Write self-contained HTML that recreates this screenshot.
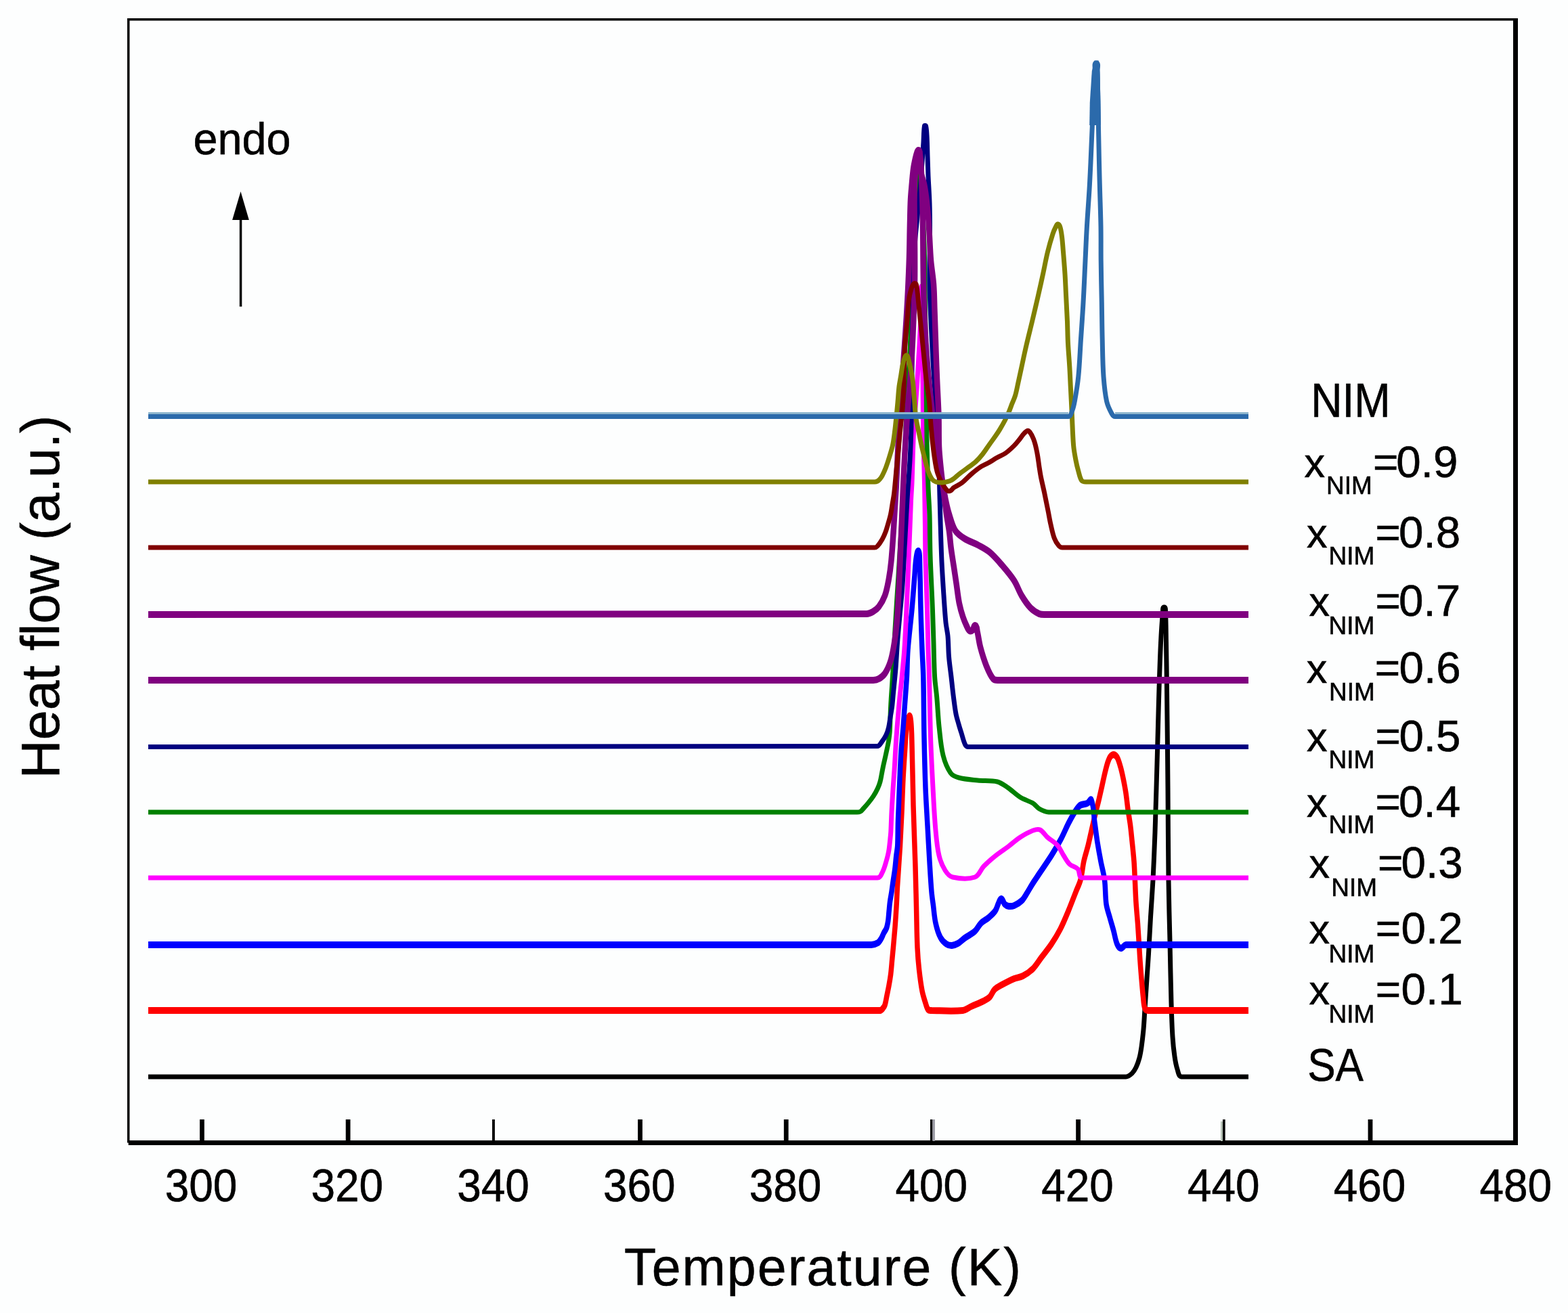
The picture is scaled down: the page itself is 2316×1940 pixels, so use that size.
<!DOCTYPE html>
<html><head><meta charset="utf-8"><title>DSC heat flow</title>
<style>html,body{margin:0;padding:0;background:#fdfefe;overflow:hidden;width:2316px;height:1940px;}svg{display:block;} text{stroke:#000;stroke-width:0.6px;paint-order:fill;}</style>
</head><body>
<svg width="2316" height="1940" viewBox="0 0 2316 1940">
<rect x="0" y="0" width="2316" height="1940" fill="#fdfefe"/>
<path d="M219.0,1591.0 L1663.0,1591.0 C1666.4,1591.0 1669.5,1588.3 1672.0,1586.0 C1674.6,1583.5 1676.4,1580.3 1678.0,1577.0 C1680.1,1572.5 1681.7,1567.8 1683.0,1563.0 C1684.4,1557.8 1685.2,1552.4 1686.0,1547.0 C1687.2,1538.4 1688.2,1529.7 1689.0,1521.0 C1689.9,1511.0 1690.3,1501.0 1691.0,1491.0 C1692.0,1476.0 1693.0,1461.0 1694.0,1446.0 C1694.8,1433.7 1695.8,1421.3 1696.5,1409.0 C1697.6,1391.0 1698.4,1373.0 1699.5,1355.0 C1700.6,1336.7 1702.0,1318.3 1703.0,1300.0 C1704.2,1276.7 1705.1,1253.3 1706.0,1230.0 C1706.8,1208.0 1707.4,1186.0 1708.0,1164.0 C1708.9,1133.7 1709.7,1103.3 1710.5,1073.0 C1711.0,1054.7 1711.4,1036.3 1712.0,1018.0 C1712.7,995.3 1713.4,972.7 1714.5,950.0 C1715.2,935.0 1716.1,920.0 1717.5,905.0 C1717.8,902.3 1716.8,897.0 1719.5,897.0 C1722.2,897.0 1721.3,902.3 1721.5,905.0 C1722.3,920.0 1722.2,935.0 1722.5,950.0 C1722.9,972.7 1723.2,995.3 1723.5,1018.0 C1724.1,1066.7 1724.6,1115.3 1725.0,1164.0 C1725.4,1209.3 1725.4,1254.7 1726.0,1300.0 C1726.4,1330.3 1727.3,1360.7 1728.0,1391.0 C1728.7,1421.3 1729.1,1451.7 1730.0,1482.0 C1730.5,1498.7 1730.9,1515.4 1732.0,1532.0 C1732.6,1541.7 1733.6,1551.4 1735.0,1561.0 C1735.9,1567.4 1737.0,1573.9 1739.0,1580.0 C1740.3,1584.0 1740.8,1590.6 1745.0,1591.0 L1844.0,1591.0" fill="none" stroke="#000000" stroke-width="7" stroke-linejoin="round" stroke-linecap="butt"/>
<path transform="scale(1,1.3333)" d="M219.0,1119.8 L1300.0,1119.8 C1301.5,1119.7 1302.8,1118.5 1304.0,1117.5 C1305.2,1116.5 1306.4,1115.2 1307.0,1113.8 C1308.4,1110.4 1309.0,1106.8 1310.0,1103.2 C1311.0,1099.5 1312.1,1095.8 1313.0,1092.0 C1314.0,1088.0 1314.9,1084.0 1315.6,1080.0 C1316.4,1075.0 1316.9,1070.0 1317.5,1065.0 C1318.1,1060.0 1318.8,1055.0 1319.4,1050.0 C1320.3,1042.5 1321.2,1035.0 1322.0,1027.5 C1322.8,1020.0 1323.4,1012.5 1324.0,1005.0 C1324.6,997.5 1324.9,990.0 1325.5,982.5 C1326.1,975.0 1326.8,967.5 1327.5,960.0 C1328.2,952.5 1328.9,945.0 1329.5,937.5 C1330.4,925.0 1331.2,912.5 1332.0,900.0 C1332.7,887.5 1333.2,875.0 1334.0,862.5 C1334.7,852.5 1335.6,842.5 1336.5,832.5 C1337.3,823.7 1337.6,814.9 1339.0,806.2 C1339.7,801.9 1339.9,796.7 1343.0,793.5 C1344.5,791.9 1345.2,797.4 1345.5,799.5 C1346.6,807.9 1346.7,816.5 1347.0,825.0 C1347.8,847.5 1348.2,870.0 1349.0,892.5 C1349.8,915.0 1351.1,937.5 1352.0,960.0 C1352.6,975.0 1353.0,990.0 1353.5,1005.0 C1354.0,1020.0 1354.1,1035.0 1355.0,1050.0 C1355.5,1058.0 1356.3,1066.0 1357.5,1074.0 C1358.7,1082.1 1360.0,1090.1 1362.0,1098.0 C1363.2,1102.7 1365.1,1107.1 1367.0,1111.5 C1368.1,1114.1 1368.9,1117.1 1371.0,1119.0 C1372.2,1120.1 1374.3,1119.7 1376.0,1119.8 C1391.3,1120.0 1406.7,1120.9 1422.0,1119.8 C1426.6,1119.4 1430.7,1116.7 1435.0,1115.2 C1441.0,1113.2 1447.1,1111.5 1453.0,1109.2 C1456.1,1108.0 1459.4,1106.8 1462.0,1104.8 C1464.8,1102.5 1466.1,1098.7 1469.0,1096.5 C1472.3,1094.1 1476.2,1092.8 1480.0,1091.2 C1485.9,1088.8 1491.9,1086.4 1498.0,1084.5 C1502.2,1083.2 1506.9,1083.2 1511.0,1081.5 C1516.3,1079.4 1521.4,1076.7 1526.0,1073.2 C1530.5,1069.9 1534.0,1065.2 1538.0,1061.2 C1543.0,1056.2 1548.3,1051.5 1553.0,1046.2 C1557.7,1041.0 1562.1,1035.5 1566.0,1029.8 C1570.4,1023.3 1574.2,1016.4 1578.0,1009.5 C1581.8,1002.6 1585.3,995.5 1589.0,988.5 C1591.3,984.0 1594.3,979.8 1596.0,975.0 C1598.4,968.2 1599.0,960.9 1601.0,954.0 C1602.6,948.4 1605.1,943.1 1607.0,937.5 C1608.8,932.0 1610.3,926.5 1612.0,921.0 C1614.0,914.5 1615.9,908.0 1618.0,901.5 C1619.6,896.5 1621.4,891.5 1623.0,886.5 C1624.7,881.0 1626.3,875.5 1628.0,870.0 C1629.3,865.5 1630.6,861.0 1632.0,856.5 C1633.2,852.7 1634.4,848.9 1636.0,845.2 C1637.1,842.9 1638.2,840.3 1640.0,838.5 C1641.3,837.2 1643.2,836.1 1645.0,836.2 C1646.9,836.4 1648.8,837.7 1650.0,839.2 C1652.3,842.4 1653.6,846.1 1655.0,849.8 C1656.6,853.9 1657.8,858.2 1659.0,862.5 C1660.5,868.0 1661.9,873.5 1663.0,879.0 C1664.2,885.0 1664.9,891.0 1666.0,897.0 C1667.1,902.8 1668.5,908.5 1669.5,914.2 C1670.5,920.0 1671.2,925.7 1672.0,931.5 C1673.1,939.2 1674.2,947.0 1675.0,954.8 C1675.7,962.2 1676.0,969.7 1676.5,977.2 C1677.0,985.0 1677.3,992.8 1678.0,1000.5 C1678.7,1008.3 1679.7,1016.0 1680.5,1023.8 C1681.2,1031.5 1681.8,1039.2 1682.5,1047.0 C1683.0,1053.0 1683.4,1059.0 1684.0,1065.0 C1684.6,1071.5 1685.3,1078.0 1686.0,1084.5 C1686.8,1091.3 1687.5,1098.0 1688.5,1104.8 C1689.1,1109.0 1689.1,1113.6 1691.0,1117.5 C1691.8,1119.1 1694.2,1119.7 1696.0,1119.8 L1844.0,1119.8" fill="none" stroke="#ff0000" stroke-width="7.5" stroke-linejoin="round" stroke-linecap="butt"/>
<path transform="scale(1,1.3333)" d="M219.0,1047.0 L1287.0,1047.0 C1290.3,1047.0 1293.7,1046.2 1296.7,1044.8 C1298.7,1043.8 1300.1,1042.0 1301.5,1040.2 C1303.1,1038.3 1304.0,1035.9 1305.4,1033.9 C1306.6,1032.1 1308.4,1030.7 1309.3,1028.8 C1310.5,1026.3 1311.1,1023.5 1311.7,1020.8 C1312.4,1017.2 1312.6,1013.5 1313.1,1009.9 C1313.6,1006.3 1313.9,1002.6 1314.6,999.0 C1315.3,995.4 1316.3,991.8 1317.0,988.2 C1317.7,984.6 1318.3,980.9 1319.0,977.2 C1319.9,972.5 1321.0,967.8 1321.8,963.0 C1322.6,958.1 1323.1,953.2 1323.8,948.4 C1324.4,944.7 1325.4,941.2 1325.7,937.5 C1326.3,928.3 1326.1,919.0 1326.5,909.8 C1327.2,894.0 1328.1,878.2 1329.0,862.5 C1329.6,852.5 1330.1,842.5 1331.0,832.5 C1331.8,823.7 1333.1,815.0 1334.0,806.2 C1334.9,797.5 1335.7,788.7 1336.5,780.0 C1337.5,770.0 1338.6,760.0 1339.4,750.0 C1340.1,740.0 1340.0,730.0 1341.0,720.0 C1342.5,704.9 1345.2,690.0 1347.0,675.0 C1348.5,662.5 1349.7,650.0 1351.0,637.5 C1351.5,632.5 1351.8,627.5 1352.5,622.5 C1353.0,619.2 1353.5,615.9 1354.5,612.8 C1354.8,611.8 1355.4,610.3 1356.4,610.5 C1357.5,610.7 1357.8,612.4 1358.0,613.5 C1358.5,616.5 1358.4,619.5 1358.5,622.5 C1358.7,627.5 1358.9,632.5 1359.0,637.5 C1359.4,650.0 1359.5,662.5 1360.0,675.0 C1360.5,690.0 1361.2,705.0 1362.0,720.0 C1362.5,730.0 1363.5,740.0 1363.8,750.0 C1364.5,772.5 1364.4,795.0 1365.0,817.5 C1365.5,836.0 1366.1,854.5 1367.0,873.0 C1367.7,887.0 1369.0,901.0 1370.0,915.0 C1371.0,928.3 1371.9,941.5 1373.0,954.8 C1373.9,966.0 1374.7,977.3 1376.0,988.5 C1376.6,993.5 1377.6,998.5 1378.5,1003.5 C1379.6,1010.0 1380.1,1016.7 1382.0,1023.0 C1383.6,1028.5 1385.7,1034.0 1389.0,1038.8 C1391.2,1042.0 1394.5,1044.4 1398.0,1046.2 C1400.4,1047.5 1403.3,1047.9 1406.0,1047.8 C1409.1,1047.6 1412.2,1046.7 1415.0,1045.5 C1418.6,1044.0 1421.6,1041.3 1425.0,1039.5 C1429.9,1036.8 1435.4,1035.2 1440.0,1032.0 C1443.5,1029.6 1445.6,1025.5 1449.0,1023.0 C1452.3,1020.5 1456.5,1019.3 1460.0,1017.0 C1463.5,1014.7 1467.2,1012.6 1470.0,1009.5 C1472.3,1007.0 1473.1,1003.4 1475.0,1000.5 C1476.1,998.8 1477.0,995.7 1479.0,996.0 C1481.6,996.4 1481.9,1000.4 1484.0,1002.0 C1485.7,1003.3 1487.9,1004.0 1490.0,1004.2 C1492.7,1004.5 1495.4,1004.3 1498.0,1003.5 C1501.9,1002.3 1505.7,1000.6 1509.0,998.2 C1511.8,996.3 1513.8,993.4 1516.0,990.8 C1519.1,987.1 1521.9,983.2 1525.0,979.5 C1528.2,975.7 1531.7,972.0 1535.0,968.2 C1541.0,961.5 1547.2,954.9 1553.0,948.0 C1557.9,942.2 1562.6,936.2 1567.0,930.0 C1571.6,923.4 1575.3,916.2 1580.0,909.8 C1584.3,903.9 1588.2,897.6 1594.0,893.2 C1597.3,890.8 1602.1,891.7 1606.0,890.2 C1608.2,889.4 1610.9,884.4 1612.0,886.5 C1615.9,894.2 1615.4,903.5 1617.0,912.0 C1618.4,919.2 1619.5,926.5 1621.0,933.8 C1622.5,940.8 1624.2,947.8 1626.0,954.8 C1627.7,961.5 1630.3,968.1 1631.5,975.0 C1633.0,983.9 1632.4,993.1 1634.0,1002.0 C1634.9,1007.0 1637.3,1011.5 1639.0,1016.2 C1640.9,1021.5 1643.1,1026.7 1645.0,1032.0 C1646.7,1036.7 1647.5,1041.9 1650.0,1046.2 C1651.2,1048.3 1653.1,1050.6 1655.5,1050.8 C1658.3,1050.9 1660.2,1047.1 1663.0,1047.0 L1844.0,1047.0" fill="none" stroke="#0000ff" stroke-width="7.5" stroke-linejoin="round" stroke-linecap="butt"/>
<path d="M219.0,1297.0 L1296.0,1297.0 C1297.3,1297.0 1298.6,1296.4 1299.5,1295.5 C1300.7,1294.4 1301.3,1292.9 1302.0,1291.5 C1303.3,1289.1 1304.4,1286.6 1305.4,1284.0 C1306.5,1281.1 1307.4,1278.0 1308.3,1275.0 C1309.3,1271.5 1310.4,1268.0 1311.2,1264.5 C1312.0,1261.4 1312.6,1258.2 1313.1,1255.0 C1313.8,1250.0 1314.3,1245.0 1314.8,1240.0 C1315.2,1236.3 1315.6,1232.7 1315.8,1229.0 C1316.3,1219.3 1316.5,1209.7 1317.0,1200.0 C1317.6,1188.7 1318.3,1177.3 1319.0,1166.0 C1319.6,1156.7 1320.4,1147.3 1321.0,1138.0 C1322.0,1123.0 1322.6,1108.0 1323.7,1093.0 C1325.0,1075.3 1326.4,1057.7 1328.0,1040.0 C1329.2,1026.6 1330.9,1013.3 1332.2,1000.0 C1333.5,986.7 1334.9,973.4 1335.8,960.0 C1337.2,940.0 1338.1,920.0 1339.0,900.0 C1340.3,873.3 1341.3,846.7 1342.4,820.0 C1343.5,793.3 1344.4,766.7 1345.5,740.0 C1345.9,731.0 1346.6,722.0 1347.0,713.0 C1348.0,688.7 1348.2,664.3 1349.5,640.0 C1350.8,615.6 1353.0,591.3 1354.6,567.0 C1355.8,548.0 1357.0,529.0 1358.0,510.0 C1358.9,493.3 1359.7,476.7 1360.5,460.0 C1361.0,448.3 1359.7,413.5 1362.0,425.0 C1364.9,439.7 1362.4,455.0 1362.5,470.0 C1362.7,502.3 1362.8,534.7 1363.0,567.0 C1363.2,591.3 1363.3,615.7 1363.7,640.0 C1364.1,664.3 1365.0,688.7 1365.5,713.0 C1365.9,735.3 1366.2,757.7 1366.5,780.0 C1366.7,795.0 1366.6,810.0 1367.0,825.0 C1367.6,850.0 1368.8,875.0 1369.5,900.0 C1370.1,920.0 1370.4,940.0 1371.0,960.0 C1371.4,973.3 1372.1,986.7 1372.5,1000.0 C1373.3,1030.3 1373.6,1060.7 1374.6,1091.0 C1375.4,1115.3 1376.7,1139.7 1378.0,1164.0 C1379.1,1185.0 1380.1,1206.0 1382.0,1227.0 C1383.1,1239.4 1384.1,1251.9 1387.0,1264.0 C1388.8,1271.7 1391.8,1279.3 1396.0,1286.0 C1398.6,1290.2 1402.2,1294.9 1407.0,1296.0 C1417.7,1298.4 1429.6,1299.6 1440.0,1296.0 C1446.5,1293.7 1448.2,1284.9 1453.0,1280.0 C1458.6,1274.2 1464.7,1269.0 1471.0,1264.0 C1476.8,1259.4 1483.1,1255.4 1489.0,1251.0 C1495.1,1246.4 1500.6,1241.1 1507.0,1237.0 C1513.0,1233.1 1519.3,1229.5 1526.0,1227.0 C1529.1,1225.8 1533.0,1224.6 1536.0,1226.0 C1540.7,1228.2 1543.1,1233.6 1547.0,1237.0 C1551.8,1241.2 1557.7,1244.2 1562.0,1249.0 C1565.9,1253.4 1567.8,1259.1 1571.0,1264.0 C1573.9,1268.4 1576.2,1273.4 1580.0,1277.0 C1583.4,1280.2 1588.9,1280.6 1592.0,1284.0 C1595.2,1287.5 1593.2,1296.8 1598.0,1297.0 L1844.0,1297.0" fill="none" stroke="#ff00ff" stroke-width="7" stroke-linejoin="round" stroke-linecap="butt"/>
<path d="M219.0,1200.0 L1266.0,1200.0 C1267.7,1200.0 1269.5,1199.8 1271.0,1199.0 C1272.6,1198.1 1273.7,1196.4 1275.0,1195.0 C1277.6,1192.2 1280.1,1189.4 1282.5,1186.4 C1285.1,1183.2 1287.7,1179.9 1290.0,1176.4 C1292.4,1172.8 1294.5,1168.9 1296.3,1165.0 C1297.8,1161.8 1299.1,1158.4 1300.0,1155.0 C1301.1,1150.9 1301.7,1146.7 1302.5,1142.6 C1303.3,1138.4 1304.1,1134.2 1305.0,1130.0 C1305.8,1126.3 1306.7,1122.7 1307.5,1119.0 C1308.3,1115.2 1309.2,1111.4 1310.0,1107.6 C1310.9,1103.4 1311.8,1099.2 1312.5,1095.0 C1313.2,1090.4 1313.9,1085.7 1314.2,1081.0 C1314.7,1074.0 1314.7,1067.0 1315.0,1060.0 C1315.2,1054.7 1315.3,1049.3 1315.6,1044.0 C1315.9,1038.3 1316.2,1032.7 1316.6,1027.0 C1316.9,1022.2 1317.3,1017.3 1317.6,1012.5 C1318.1,1005.0 1318.6,997.5 1319.0,990.0 C1320.1,970.0 1320.9,950.0 1322.0,930.0 C1323.5,903.3 1325.4,876.7 1327.0,850.0 C1329.0,816.7 1331.3,783.4 1333.0,750.0 C1335.0,710.3 1336.2,670.7 1338.0,631.0 C1338.9,611.3 1340.0,591.7 1341.0,572.0 C1342.2,549.3 1343.7,526.7 1344.6,504.0 C1345.9,472.0 1346.7,440.0 1347.8,408.0 C1348.8,378.7 1349.9,349.3 1351.0,320.0 C1351.6,305.0 1352.0,290.0 1353.0,275.0 C1353.4,269.3 1350.1,260.9 1355.0,258.0 C1359.1,255.5 1357.3,267.3 1358.0,272.0 C1359.6,283.0 1361.1,294.0 1362.0,305.0 C1363.5,323.3 1364.5,341.6 1365.0,360.0 C1366.0,393.3 1366.0,426.7 1366.5,460.0 C1367.0,490.0 1367.6,520.0 1368.0,550.0 C1368.4,583.3 1368.4,616.7 1369.0,650.0 C1369.4,673.3 1370.2,696.7 1371.0,720.0 C1371.5,733.3 1372.6,746.7 1373.0,760.0 C1373.6,780.0 1373.4,800.0 1374.0,820.0 C1374.8,846.7 1376.4,873.3 1377.4,900.0 C1378.0,916.7 1378.5,933.3 1379.0,950.0 C1379.5,966.7 1379.6,983.4 1380.6,1000.0 C1381.2,1010.0 1382.8,1020.0 1383.7,1030.0 C1385.0,1044.3 1385.5,1058.7 1387.0,1073.0 C1388.6,1087.4 1389.5,1101.9 1393.0,1116.0 C1395.3,1125.1 1398.6,1134.3 1404.0,1142.0 C1406.6,1145.8 1411.5,1147.8 1416.0,1149.0 C1425.1,1151.5 1434.6,1152.0 1444.0,1153.0 C1453.6,1154.0 1463.6,1152.7 1473.0,1155.0 C1478.9,1156.5 1483.9,1160.6 1489.0,1164.0 C1495.3,1168.3 1500.5,1174.0 1507.0,1178.0 C1513.0,1181.7 1520.0,1183.4 1526.0,1187.0 C1529.4,1189.1 1531.5,1193.0 1535.0,1195.0 C1539.3,1197.4 1544.0,1199.9 1549.0,1200.0 L1844.0,1200.0" fill="none" stroke="#008000" stroke-width="7" stroke-linejoin="round" stroke-linecap="butt"/>
<path d="M219.0,1103.5 L1296.0,1102.5 C1299.1,1102.5 1300.6,1098.4 1302.5,1096.0 C1304.9,1092.9 1307.1,1089.6 1308.8,1086.0 C1310.5,1082.5 1311.6,1078.8 1312.5,1075.0 C1313.7,1070.1 1314.2,1065.0 1315.0,1060.0 C1315.9,1054.7 1316.9,1049.4 1317.6,1044.0 C1318.4,1037.7 1318.8,1031.3 1319.4,1025.0 C1320.0,1018.7 1320.7,1012.3 1321.3,1006.0 C1322.0,999.0 1322.7,992.0 1323.2,985.0 C1324.1,973.3 1324.6,961.7 1325.5,950.0 C1326.5,936.7 1327.8,923.3 1329.0,910.0 C1330.3,895.0 1332.0,880.0 1333.0,865.0 C1334.6,841.0 1335.7,817.0 1337.0,793.0 C1338.0,774.7 1338.9,756.3 1340.0,738.0 C1341.2,718.7 1342.9,699.3 1344.0,680.0 C1344.9,663.3 1345.6,646.7 1346.0,630.0 C1346.6,603.3 1346.7,576.7 1347.0,550.0 C1347.3,523.3 1347.4,496.7 1348.0,470.0 C1348.8,435.0 1349.4,400.0 1351.0,365.0 C1351.7,350.0 1353.6,335.0 1355.0,320.0 C1356.3,306.7 1357.8,293.3 1359.0,280.0 C1360.2,266.7 1361.0,253.3 1362.0,240.0 C1362.7,230.0 1363.4,220.0 1364.0,210.0 C1364.5,202.0 1364.3,193.9 1365.5,186.0 C1365.6,185.3 1367.3,185.4 1367.5,186.0 C1368.6,190.6 1368.7,195.3 1369.0,200.0 C1369.6,210.0 1369.7,220.0 1370.0,230.0 C1370.3,240.0 1370.6,250.0 1371.0,260.0 C1371.6,273.3 1372.6,286.7 1373.0,300.0 C1373.4,313.3 1373.5,326.7 1373.5,340.0 C1373.5,366.7 1372.6,393.3 1373.0,420.0 C1373.3,441.7 1374.5,463.3 1375.5,485.0 C1376.5,506.7 1377.6,528.3 1379.0,550.0 C1380.1,568.0 1381.7,586.0 1383.0,604.0 C1384.1,619.0 1385.4,634.0 1386.0,649.0 C1386.9,670.3 1387.0,691.7 1387.5,713.0 C1388.0,732.0 1388.4,751.0 1389.0,770.0 C1389.6,790.0 1390.1,810.0 1391.0,830.0 C1391.8,846.7 1392.9,863.3 1394.0,880.0 C1394.9,893.3 1395.7,906.7 1397.0,920.0 C1397.7,926.7 1399.4,933.3 1400.0,940.0 C1400.9,950.0 1400.7,960.0 1401.5,970.0 C1402.3,980.0 1403.8,990.0 1405.0,1000.0 C1406.1,1010.0 1407.1,1020.0 1408.4,1030.0 C1409.5,1038.4 1410.4,1046.7 1412.0,1055.0 C1413.0,1060.1 1414.6,1065.0 1416.0,1070.0 C1417.2,1074.4 1418.6,1078.7 1420.0,1083.0 C1421.8,1088.7 1422.9,1094.6 1425.5,1100.0 C1426.3,1101.7 1428.1,1103.5 1430.0,1103.5 L1844.0,1103.5" fill="none" stroke="#000080" stroke-width="7" stroke-linejoin="round" stroke-linecap="butt"/>
<path transform="scale(1,1.1765)" d="M219.0,854.2 L1290.0,854.2 C1292.7,854.2 1295.6,853.8 1298.0,852.5 C1301.4,850.9 1304.7,848.7 1307.0,845.8 C1310.4,841.5 1313.0,836.4 1315.0,831.3 C1317.4,825.3 1318.7,818.9 1320.0,812.6 C1321.6,805.0 1322.7,797.3 1323.7,789.6 C1324.7,782.0 1325.4,774.4 1326.0,766.7 C1326.8,756.2 1327.4,745.7 1328.0,735.2 C1329.1,714.9 1330.0,694.5 1331.0,674.0 C1332.0,653.4 1332.9,632.7 1334.0,612.0 C1334.9,595.0 1335.8,578.0 1337.0,561.0 C1338.2,544.0 1339.5,527.0 1341.0,510.0 C1342.5,493.0 1344.7,476.0 1346.0,459.0 C1347.3,442.0 1348.2,425.0 1349.0,408.0 C1349.8,391.0 1350.7,374.0 1351.0,357.0 C1351.4,337.2 1351.1,317.3 1351.0,297.5 C1350.9,283.3 1350.5,269.2 1350.5,255.0 C1350.5,246.5 1350.5,238.0 1351.0,229.5 C1351.4,222.4 1352.2,215.3 1353.0,208.2 C1353.5,204.0 1354.1,199.7 1355.0,195.5 C1355.5,193.3 1354.8,189.1 1357.0,189.1 C1359.2,189.1 1358.1,193.3 1358.3,195.5 C1358.7,199.7 1358.5,204.0 1359.0,208.2 C1359.4,212.0 1360.1,215.7 1361.0,219.3 C1362.1,223.3 1364.0,227.1 1365.0,231.2 C1366.3,236.5 1367.2,241.9 1368.0,247.3 C1369.2,255.5 1370.1,263.8 1371.0,272.0 C1371.6,278.2 1372.0,284.5 1372.5,290.7 C1373.4,302.9 1373.8,315.1 1375.0,327.2 C1376.0,337.2 1378.1,347.0 1379.0,357.0 C1380.0,368.3 1380.0,379.7 1380.5,391.0 C1381.2,408.0 1381.8,425.0 1382.5,442.0 C1383.0,453.3 1383.4,464.7 1384.0,476.0 C1384.8,491.6 1385.9,507.2 1386.5,522.8 C1386.9,535.5 1386.4,548.3 1387.0,561.0 C1387.4,569.5 1388.5,578.0 1389.5,586.5 C1390.5,595.0 1391.8,603.5 1393.0,612.0 C1394.6,623.3 1396.2,634.7 1398.0,646.0 C1399.2,653.1 1400.9,660.1 1402.0,667.2 C1403.1,674.0 1403.6,680.9 1404.6,687.6 C1405.8,695.5 1407.3,703.2 1408.7,711.0 C1410.1,718.8 1411.4,726.5 1412.8,734.2 C1414.1,741.9 1415.0,749.7 1416.8,757.4 C1418.2,763.3 1420.1,769.1 1422.3,774.8 C1423.8,778.7 1425.7,782.5 1427.8,786.2 C1429.0,788.4 1429.9,791.0 1432.0,792.2 C1433.3,793.0 1435.3,792.3 1436.5,791.4 C1438.4,789.9 1438.2,784.8 1440.5,785.4 C1443.2,786.0 1442.8,790.4 1443.5,793.0 C1445.3,799.5 1446.0,806.2 1448.0,812.6 C1450.5,820.7 1453.4,828.7 1457.0,836.4 C1459.7,842.1 1462.5,848.1 1467.0,852.5 C1468.9,854.5 1472.3,854.2 1475.0,854.2 L1844.0,854.2" fill="none" stroke="#800080" stroke-width="8.5" stroke-linejoin="round" stroke-linecap="butt"/>
<path transform="scale(1,1.1765)" d="M219.0,771.8 L1280.0,770.9 C1283.1,770.9 1286.2,769.8 1289.0,768.4 C1292.3,766.8 1295.6,764.8 1298.0,762.0 C1301.7,757.9 1304.8,753.1 1307.0,748.0 C1309.8,741.5 1311.2,734.5 1312.7,727.6 C1314.3,720.0 1315.5,712.3 1316.4,704.6 C1318.0,690.8 1318.9,676.9 1320.0,663.0 C1321.3,646.0 1322.6,629.0 1323.7,612.0 C1325.0,592.2 1325.7,572.3 1327.0,552.5 C1328.1,535.5 1329.7,518.5 1331.0,501.5 C1332.1,487.3 1332.9,473.2 1334.0,459.0 C1335.1,444.8 1336.4,430.7 1337.5,416.5 C1338.8,399.5 1340.0,382.5 1341.0,365.5 C1341.8,351.3 1342.5,337.2 1343.0,323.0 C1343.5,308.8 1343.6,294.7 1344.0,280.5 C1344.3,270.6 1344.4,260.7 1345.0,250.8 C1345.4,243.6 1346.3,236.6 1347.0,229.5 C1347.6,223.8 1348.1,218.1 1349.0,212.5 C1349.7,207.9 1350.8,203.4 1352.0,198.9 C1352.7,196.3 1353.4,193.7 1354.5,191.2 C1354.9,190.3 1355.4,188.7 1356.5,188.7 C1357.5,188.7 1358.1,190.2 1358.3,191.2 C1359.3,195.4 1359.6,199.7 1360.0,204.0 C1360.7,212.5 1361.2,221.0 1361.5,229.5 C1362.2,246.5 1362.7,263.5 1363.0,280.5 C1363.5,306.0 1363.4,331.5 1364.0,357.0 C1364.4,374.0 1365.0,391.0 1366.0,408.0 C1367.0,425.0 1368.3,442.0 1370.0,459.0 C1371.7,476.0 1373.8,493.0 1376.0,510.0 C1377.8,524.2 1380.1,538.3 1382.0,552.5 C1383.5,563.8 1383.9,575.3 1386.0,586.5 C1387.3,593.2 1390.3,599.5 1392.0,606.0 C1394.0,613.6 1395.1,621.4 1397.0,629.0 C1398.4,634.7 1399.9,640.5 1402.0,646.0 C1404.6,653.0 1406.5,660.5 1411.0,666.4 C1414.5,671.0 1419.9,673.9 1425.0,676.6 C1431.0,679.8 1437.8,681.4 1444.0,684.2 C1450.1,687.1 1456.5,689.7 1462.0,693.6 C1468.6,698.3 1474.3,704.1 1480.0,709.8 C1486.3,716.0 1492.6,722.2 1498.0,729.3 C1502.4,735.1 1504.8,742.1 1509.0,748.0 C1512.9,753.5 1517.0,758.9 1522.0,763.3 C1525.8,766.6 1530.3,769.2 1535.0,770.9 C1538.1,772.1 1541.7,771.8 1545.0,771.8 L1844.0,771.8" fill="none" stroke="#800080" stroke-width="8.5" stroke-linejoin="round" stroke-linecap="butt"/>
<path d="M219.0,809.0 L1292.0,809.0 C1293.5,809.0 1295.0,808.1 1296.0,807.0 C1298.7,804.0 1301.0,800.5 1303.0,797.0 C1305.0,793.5 1306.6,789.8 1308.0,786.0 C1309.6,781.8 1310.7,777.4 1312.0,773.0 C1313.2,768.7 1314.6,764.4 1315.5,760.0 C1316.6,755.0 1317.2,750.0 1318.0,745.0 C1318.8,740.0 1319.9,735.0 1320.5,730.0 C1321.8,718.7 1322.7,707.3 1323.8,696.0 C1324.9,684.7 1326.2,673.3 1327.3,662.0 C1328.0,654.7 1328.5,647.3 1329.2,640.0 C1330.0,632.3 1331.0,624.7 1331.7,617.0 C1332.4,609.3 1333.0,601.7 1333.6,594.0 C1334.1,586.3 1334.7,578.7 1335.0,571.0 C1335.6,552.7 1335.4,534.3 1336.3,516.0 C1337.0,501.6 1338.8,487.3 1340.0,473.0 C1340.9,462.7 1341.1,452.3 1342.5,442.0 C1343.2,436.6 1344.7,431.3 1346.3,426.0 C1346.9,423.9 1347.8,421.8 1349.0,420.0 C1349.5,419.2 1350.5,418.3 1351.4,418.5 C1352.5,418.7 1353.2,420.0 1353.5,421.0 C1354.4,423.9 1354.6,427.0 1355.0,430.0 C1355.6,435.3 1356.0,440.7 1356.5,446.0 C1357.7,458.0 1359.0,470.0 1360.2,482.0 C1361.4,494.0 1362.6,506.0 1363.8,518.0 C1365.2,532.0 1366.4,546.0 1368.0,560.0 C1369.3,571.4 1371.4,582.6 1372.6,594.0 C1373.8,605.3 1374.0,616.7 1375.0,628.0 C1376.0,639.3 1376.9,650.7 1378.4,662.0 C1379.9,673.6 1381.2,685.2 1384.0,696.5 C1385.5,702.5 1388.4,708.1 1391.4,713.6 C1393.6,717.7 1396.0,721.9 1399.4,725.0 C1400.5,726.0 1402.6,725.7 1404.0,725.0 C1405.9,724.1 1406.8,721.9 1408.5,720.7 C1412.6,717.9 1417.4,716.0 1421.3,713.0 C1425.9,709.4 1429.7,704.8 1434.1,701.0 C1438.2,697.4 1442.4,693.8 1446.9,690.8 C1450.9,688.1 1455.5,686.4 1459.7,684.0 C1464.0,681.5 1468.2,678.8 1472.5,676.3 C1476.7,673.9 1481.3,672.3 1485.3,669.5 C1489.9,666.3 1494.0,662.4 1498.0,658.4 C1501.1,655.3 1503.8,651.6 1506.6,648.2 C1508.8,645.5 1510.5,642.4 1513.0,640.0 C1514.7,638.4 1517.1,635.2 1519.0,636.5 C1523.3,639.5 1525.1,645.1 1527.0,650.0 C1529.5,656.4 1530.7,663.3 1532.0,670.0 C1533.3,676.6 1534.0,683.3 1535.0,690.0 C1535.8,695.0 1536.5,700.0 1537.5,705.0 C1539.0,712.4 1540.8,719.6 1542.4,727.0 C1544.3,736.2 1546.2,745.4 1548.0,754.6 C1549.4,761.4 1550.4,768.2 1552.0,775.0 C1553.6,781.9 1554.9,788.9 1557.4,795.5 C1558.9,799.5 1561.2,803.3 1564.0,806.5 C1565.2,807.9 1567.1,809.0 1569.0,809.0 L1844.0,809.0" fill="none" stroke="#800000" stroke-width="7" stroke-linejoin="round" stroke-linecap="butt"/>
<path d="M219.0,712.0 L1292.0,712.0 C1293.4,712.0 1294.8,711.6 1296.0,711.0 C1297.4,710.3 1298.5,709.2 1299.5,708.0 C1300.8,706.5 1302.1,704.8 1303.0,703.0 C1305.0,699.1 1306.8,695.1 1308.4,691.0 C1310.5,685.4 1312.3,679.7 1314.0,674.0 C1315.7,668.4 1317.5,662.8 1318.7,657.0 C1320.2,649.4 1321.0,641.7 1322.0,634.0 C1322.9,626.4 1323.6,618.7 1324.4,611.0 C1325.0,605.3 1325.5,599.7 1326.0,594.0 C1326.7,586.3 1327.1,578.6 1328.0,571.0 C1328.6,566.0 1329.7,561.0 1330.5,556.0 C1331.5,550.0 1332.2,543.9 1333.5,538.0 C1334.2,534.6 1335.1,531.2 1336.5,528.0 C1337.0,526.8 1337.7,524.7 1339.0,525.0 C1340.5,525.3 1341.0,527.5 1341.5,529.0 C1342.7,532.6 1343.2,536.3 1344.0,540.0 C1344.9,544.0 1345.8,548.0 1346.5,552.0 C1347.3,556.3 1348.0,560.6 1348.5,565.0 C1349.4,573.3 1349.8,581.7 1350.5,590.0 C1351.2,599.0 1351.6,608.1 1352.8,617.0 C1353.9,624.7 1355.8,632.3 1357.4,640.0 C1358.9,647.3 1360.3,654.7 1362.0,662.0 C1363.4,668.0 1364.9,674.0 1366.5,680.0 C1367.9,685.5 1369.0,691.1 1371.0,696.5 C1372.5,700.5 1374.2,704.6 1376.7,708.0 C1378.1,709.9 1380.2,711.3 1382.4,712.0 C1385.5,713.0 1388.8,713.3 1392.0,713.0 C1396.5,712.5 1401.1,711.7 1405.1,709.6 C1409.6,707.3 1413.0,703.3 1417.0,700.2 C1421.2,697.0 1425.6,694.0 1429.8,690.8 C1433.6,688.0 1437.5,685.5 1441.0,682.3 C1444.7,678.9 1448.1,675.1 1451.2,671.2 C1454.9,666.6 1458.0,661.5 1461.4,656.7 C1464.2,652.7 1467.2,648.8 1470.0,644.8 C1472.3,641.5 1474.6,638.1 1476.7,634.6 C1479.4,630.1 1482.0,625.6 1484.4,621.0 C1486.4,617.1 1488.3,613.1 1490.0,609.0 C1491.7,605.1 1493.1,601.0 1494.6,597.0 C1496.3,592.7 1498.4,588.5 1499.7,584.0 C1501.5,577.8 1502.6,571.3 1504.0,565.0 C1505.7,557.3 1507.3,549.7 1509.0,542.0 C1511.3,531.3 1513.5,520.6 1516.0,510.0 C1518.7,498.3 1521.7,486.7 1524.5,475.0 C1527.3,463.3 1530.0,451.7 1532.7,440.0 C1535.4,428.3 1538.0,416.7 1540.5,405.0 C1542.9,394.0 1544.8,382.9 1547.5,372.0 C1549.7,363.1 1552.2,354.3 1555.0,345.6 C1556.2,341.9 1557.7,338.4 1559.5,335.0 C1560.3,333.5 1561.0,330.7 1562.7,331.0 C1564.7,331.3 1565.4,334.1 1566.0,336.0 C1567.4,340.5 1567.9,345.3 1568.5,350.0 C1569.4,357.0 1569.8,364.0 1570.4,371.0 C1571.3,382.3 1572.3,393.7 1573.0,405.0 C1573.7,416.3 1574.1,427.7 1574.7,439.0 C1575.3,450.5 1575.9,462.0 1576.4,473.5 C1576.9,484.9 1576.9,496.2 1577.5,507.6 C1578.1,519.0 1579.1,530.3 1579.8,541.7 C1580.5,553.1 1580.9,564.4 1581.5,575.8 C1582.1,587.2 1582.6,598.6 1583.2,610.0 C1584.0,626.0 1584.3,642.0 1585.6,658.0 C1586.2,665.4 1587.6,672.7 1589.0,680.0 C1590.0,685.4 1591.3,690.7 1592.8,696.0 C1594.2,700.7 1594.8,706.0 1597.6,710.0 C1598.9,711.8 1601.8,712.0 1604.0,712.0 L1844.0,712.0" fill="none" stroke="#808000" stroke-width="7" stroke-linejoin="round" stroke-linecap="butt"/>
<path d="M219.0,615.5 L1578.0,615.5 C1581.7,615.5 1582.6,609.5 1584.0,606.0 C1585.7,601.9 1586.5,597.4 1587.3,593.0 C1589.5,580.9 1591.6,568.7 1592.8,556.5 C1594.6,538.4 1595.2,520.2 1596.4,502.0 C1597.6,483.7 1599.0,465.3 1600.0,447.0 C1601.2,426.3 1602.0,405.7 1603.0,385.0 C1603.8,368.3 1604.4,351.7 1605.4,335.0 C1606.4,316.7 1607.9,298.3 1609.0,280.0 C1609.8,266.7 1610.4,253.3 1611.0,240.0 C1611.6,226.7 1612.1,213.3 1612.7,200.0 C1613.3,186.7 1613.9,173.3 1614.5,160.0 C1615.0,150.0 1615.5,140.0 1616.0,130.0 C1616.5,121.7 1616.8,113.3 1617.5,105.0 C1617.9,101.0 1615.3,93.0 1619.3,93.0 C1623.3,93.0 1620.8,101.0 1621.0,105.0 C1621.5,113.3 1621.3,121.7 1621.5,130.0 C1621.7,140.0 1621.8,150.0 1622.0,160.0 C1622.2,173.3 1622.5,186.7 1622.7,200.0 C1623.0,213.3 1623.2,226.7 1623.5,240.0 C1623.8,253.3 1624.1,266.7 1624.5,280.0 C1625.0,298.3 1625.7,316.7 1626.0,335.0 C1626.3,351.7 1626.0,368.3 1626.2,385.0 C1626.4,405.7 1626.9,426.3 1627.3,447.0 C1627.6,465.3 1627.7,483.7 1628.2,502.0 C1628.6,520.2 1628.7,538.4 1630.0,556.5 C1630.9,568.7 1632.0,581.0 1634.6,593.0 C1636.0,599.3 1638.9,605.3 1642.0,611.0 C1643.1,613.0 1644.8,615.5 1647.0,615.5 L1844.0,615.5" fill="none" stroke="#2b6aab" stroke-width="7" stroke-linejoin="round" stroke-linecap="butt"/>
<path d="M1616.4,89.5 L1622.7,89.5 L1624.3,105 L1625.5,151 L1626,185 L1609.2,185 L1609.8,151 L1612.8,105 Z" fill="#2b6aab"/>
<path d="M219,610.4 H1578 M1647,610.4 H1844" stroke="#8db5cd" stroke-width="3" fill="none"/>
<path d="M189.7,1688.5 V28.8 H2238.5" fill="none" stroke="#000" stroke-width="3.5"/>
<path d="M189.7,1688.5 H2238.5 V27" fill="none" stroke="#000" stroke-width="7"/>
<rect x="295.0" y="1654" width="6.8" height="32" fill="#000"/>
<rect x="510.7" y="1654" width="6.8" height="32" fill="#000"/>
<rect x="727" y="1654" width="3.9" height="32" fill="#000"/>
<rect x="942.1" y="1654" width="6.8" height="32" fill="#000"/>
<rect x="1157.8" y="1654" width="6.8" height="32" fill="#000"/>
<rect x="1374" y="1654" width="3.5" height="32" fill="#000"/><rect x="1377.5" y="1654" width="3.4" height="32" fill="#9a9aa4"/>
<rect x="1589.2" y="1654" width="6.8" height="32" fill="#000"/>
<rect x="1806" y="1654" width="3.7" height="32" fill="#000"/><rect x="1803" y="1657" width="3" height="29" fill="#b8c4b8"/>
<rect x="2020.6" y="1654" width="6.8" height="32" fill="#000"/>
<text transform="translate(297.0,1774.5) scale(0.94,1)" x="0" y="0" font-family="'Liberation Sans', Arial, Helvetica, sans-serif" font-size="68" text-anchor="middle">300</text>
<text transform="translate(512.8,1774.5) scale(0.94,1)" x="0" y="0" font-family="'Liberation Sans', Arial, Helvetica, sans-serif" font-size="68" text-anchor="middle">320</text>
<text transform="translate(728.5,1774.5) scale(0.94,1)" x="0" y="0" font-family="'Liberation Sans', Arial, Helvetica, sans-serif" font-size="68" text-anchor="middle">340</text>
<text transform="translate(944.2,1774.5) scale(0.94,1)" x="0" y="0" font-family="'Liberation Sans', Arial, Helvetica, sans-serif" font-size="68" text-anchor="middle">360</text>
<text transform="translate(1160.0,1774.5) scale(0.94,1)" x="0" y="0" font-family="'Liberation Sans', Arial, Helvetica, sans-serif" font-size="68" text-anchor="middle">380</text>
<text transform="translate(1375.8,1774.5) scale(0.94,1)" x="0" y="0" font-family="'Liberation Sans', Arial, Helvetica, sans-serif" font-size="68" text-anchor="middle">400</text>
<text transform="translate(1591.5,1774.5) scale(0.94,1)" x="0" y="0" font-family="'Liberation Sans', Arial, Helvetica, sans-serif" font-size="68" text-anchor="middle">420</text>
<text transform="translate(1807.2,1774.5) scale(0.94,1)" x="0" y="0" font-family="'Liberation Sans', Arial, Helvetica, sans-serif" font-size="68" text-anchor="middle">440</text>
<text transform="translate(2023.0,1774.5) scale(0.94,1)" x="0" y="0" font-family="'Liberation Sans', Arial, Helvetica, sans-serif" font-size="68" text-anchor="middle">460</text>
<text transform="translate(2238.8,1774.5) scale(0.94,1)" x="0" y="0" font-family="'Liberation Sans', Arial, Helvetica, sans-serif" font-size="68" text-anchor="middle">480</text>
<text x="1216" y="1899" font-family="'Liberation Sans', Arial, Helvetica, sans-serif" font-size="77" letter-spacing="2.1" text-anchor="middle">Temperature (K)</text>
<text transform="translate(86.5,882) rotate(-90) scale(0.99,1)" x="0" y="0" font-family="'Liberation Sans', Arial, Helvetica, sans-serif" font-size="80" text-anchor="middle">Heat flow (a.u.)</text>
<text transform="translate(285.5,228) scale(0.98,1)" x="0" y="0" font-family="'Liberation Sans', Arial, Helvetica, sans-serif" font-size="66">endo</text>
<rect x="353.8" y="320" width="3.5" height="133" fill="#000"/>
<path d="M355.5,283 L367.8,325 L343.1,325 Z" fill="#000"/>
<text transform="translate(1936.3,615.5) scale(0.915,1)" x="0" y="0" font-family="'Liberation Sans', Arial, Helvetica, sans-serif" font-size="70">NIM</text>
<text transform="translate(1931.2,1597) scale(0.917,1)" x="0" y="0" font-family="'Liberation Sans', Arial, Helvetica, sans-serif" font-size="67.7">SA</text>
<text font-family="'Liberation Sans', Arial, Helvetica, sans-serif"><tspan x="1926.5" y="705.4" font-size="61">x</tspan><tspan x="1959.0" y="729.7" font-size="37">NIM</tspan><tspan x="2027.9" y="705.4" font-size="64">=</tspan><tspan x="2062.3" y="705.4" font-size="65.5">0.9</tspan></text>
<text font-family="'Liberation Sans', Arial, Helvetica, sans-serif"><tspan x="1930.1" y="808.9" font-size="61">x</tspan><tspan x="1962.6" y="833.6" font-size="37">NIM</tspan><tspan x="2031.4" y="808.9" font-size="64">=</tspan><tspan x="2066.1" y="808.9" font-size="65.5">0.8</tspan></text>
<text font-family="'Liberation Sans', Arial, Helvetica, sans-serif"><tspan x="1933.5" y="909.5" font-size="61">x</tspan><tspan x="1962.6" y="936.8" font-size="37">NIM</tspan><tspan x="2031.4" y="909.5" font-size="64">=</tspan><tspan x="2066.1" y="909.5" font-size="65.5">0.7</tspan></text>
<text font-family="'Liberation Sans', Arial, Helvetica, sans-serif"><tspan x="1929.7" y="1008.8" font-size="61">x</tspan><tspan x="1963.1" y="1034.5" font-size="37">NIM</tspan><tspan x="2030.8" y="1008.8" font-size="64">=</tspan><tspan x="2066.5" y="1008.8" font-size="65.5">0.6</tspan></text>
<text font-family="'Liberation Sans', Arial, Helvetica, sans-serif"><tspan x="1930.1" y="1110.0" font-size="61">x</tspan><tspan x="1962.6" y="1134.7" font-size="37">NIM</tspan><tspan x="2031.4" y="1110.0" font-size="64">=</tspan><tspan x="2066.4" y="1110.0" font-size="65.5">0.5</tspan></text>
<text font-family="'Liberation Sans', Arial, Helvetica, sans-serif"><tspan x="1930.1" y="1207.0" font-size="61">x</tspan><tspan x="1962.6" y="1231.0" font-size="37">NIM</tspan><tspan x="2031.4" y="1207.0" font-size="64">=</tspan><tspan x="2066.1" y="1207.0" font-size="65.5">0.4</tspan></text>
<text font-family="'Liberation Sans', Arial, Helvetica, sans-serif"><tspan x="1933.4" y="1296.7" font-size="61">x</tspan><tspan x="1966.3" y="1324.0" font-size="37">NIM</tspan><tspan x="2035.0" y="1296.7" font-size="64">=</tspan><tspan x="2069.5" y="1296.7" font-size="65.5">0.3</tspan></text>
<text font-family="'Liberation Sans', Arial, Helvetica, sans-serif"><tspan x="1933.5" y="1393.7" font-size="61">x</tspan><tspan x="1962.6" y="1421.5" font-size="37">NIM</tspan><tspan x="2031.7" y="1393.7" font-size="64">=</tspan><tspan x="2069.5" y="1393.7" font-size="65.5">0.2</tspan></text>
<text font-family="'Liberation Sans', Arial, Helvetica, sans-serif"><tspan x="1933.5" y="1483.7" font-size="61">x</tspan><tspan x="1962.6" y="1511.0" font-size="37">NIM</tspan><tspan x="2031.7" y="1483.7" font-size="64">=</tspan><tspan x="2069.5" y="1483.7" font-size="65.5">0.1</tspan></text>
</svg>
</body></html>
